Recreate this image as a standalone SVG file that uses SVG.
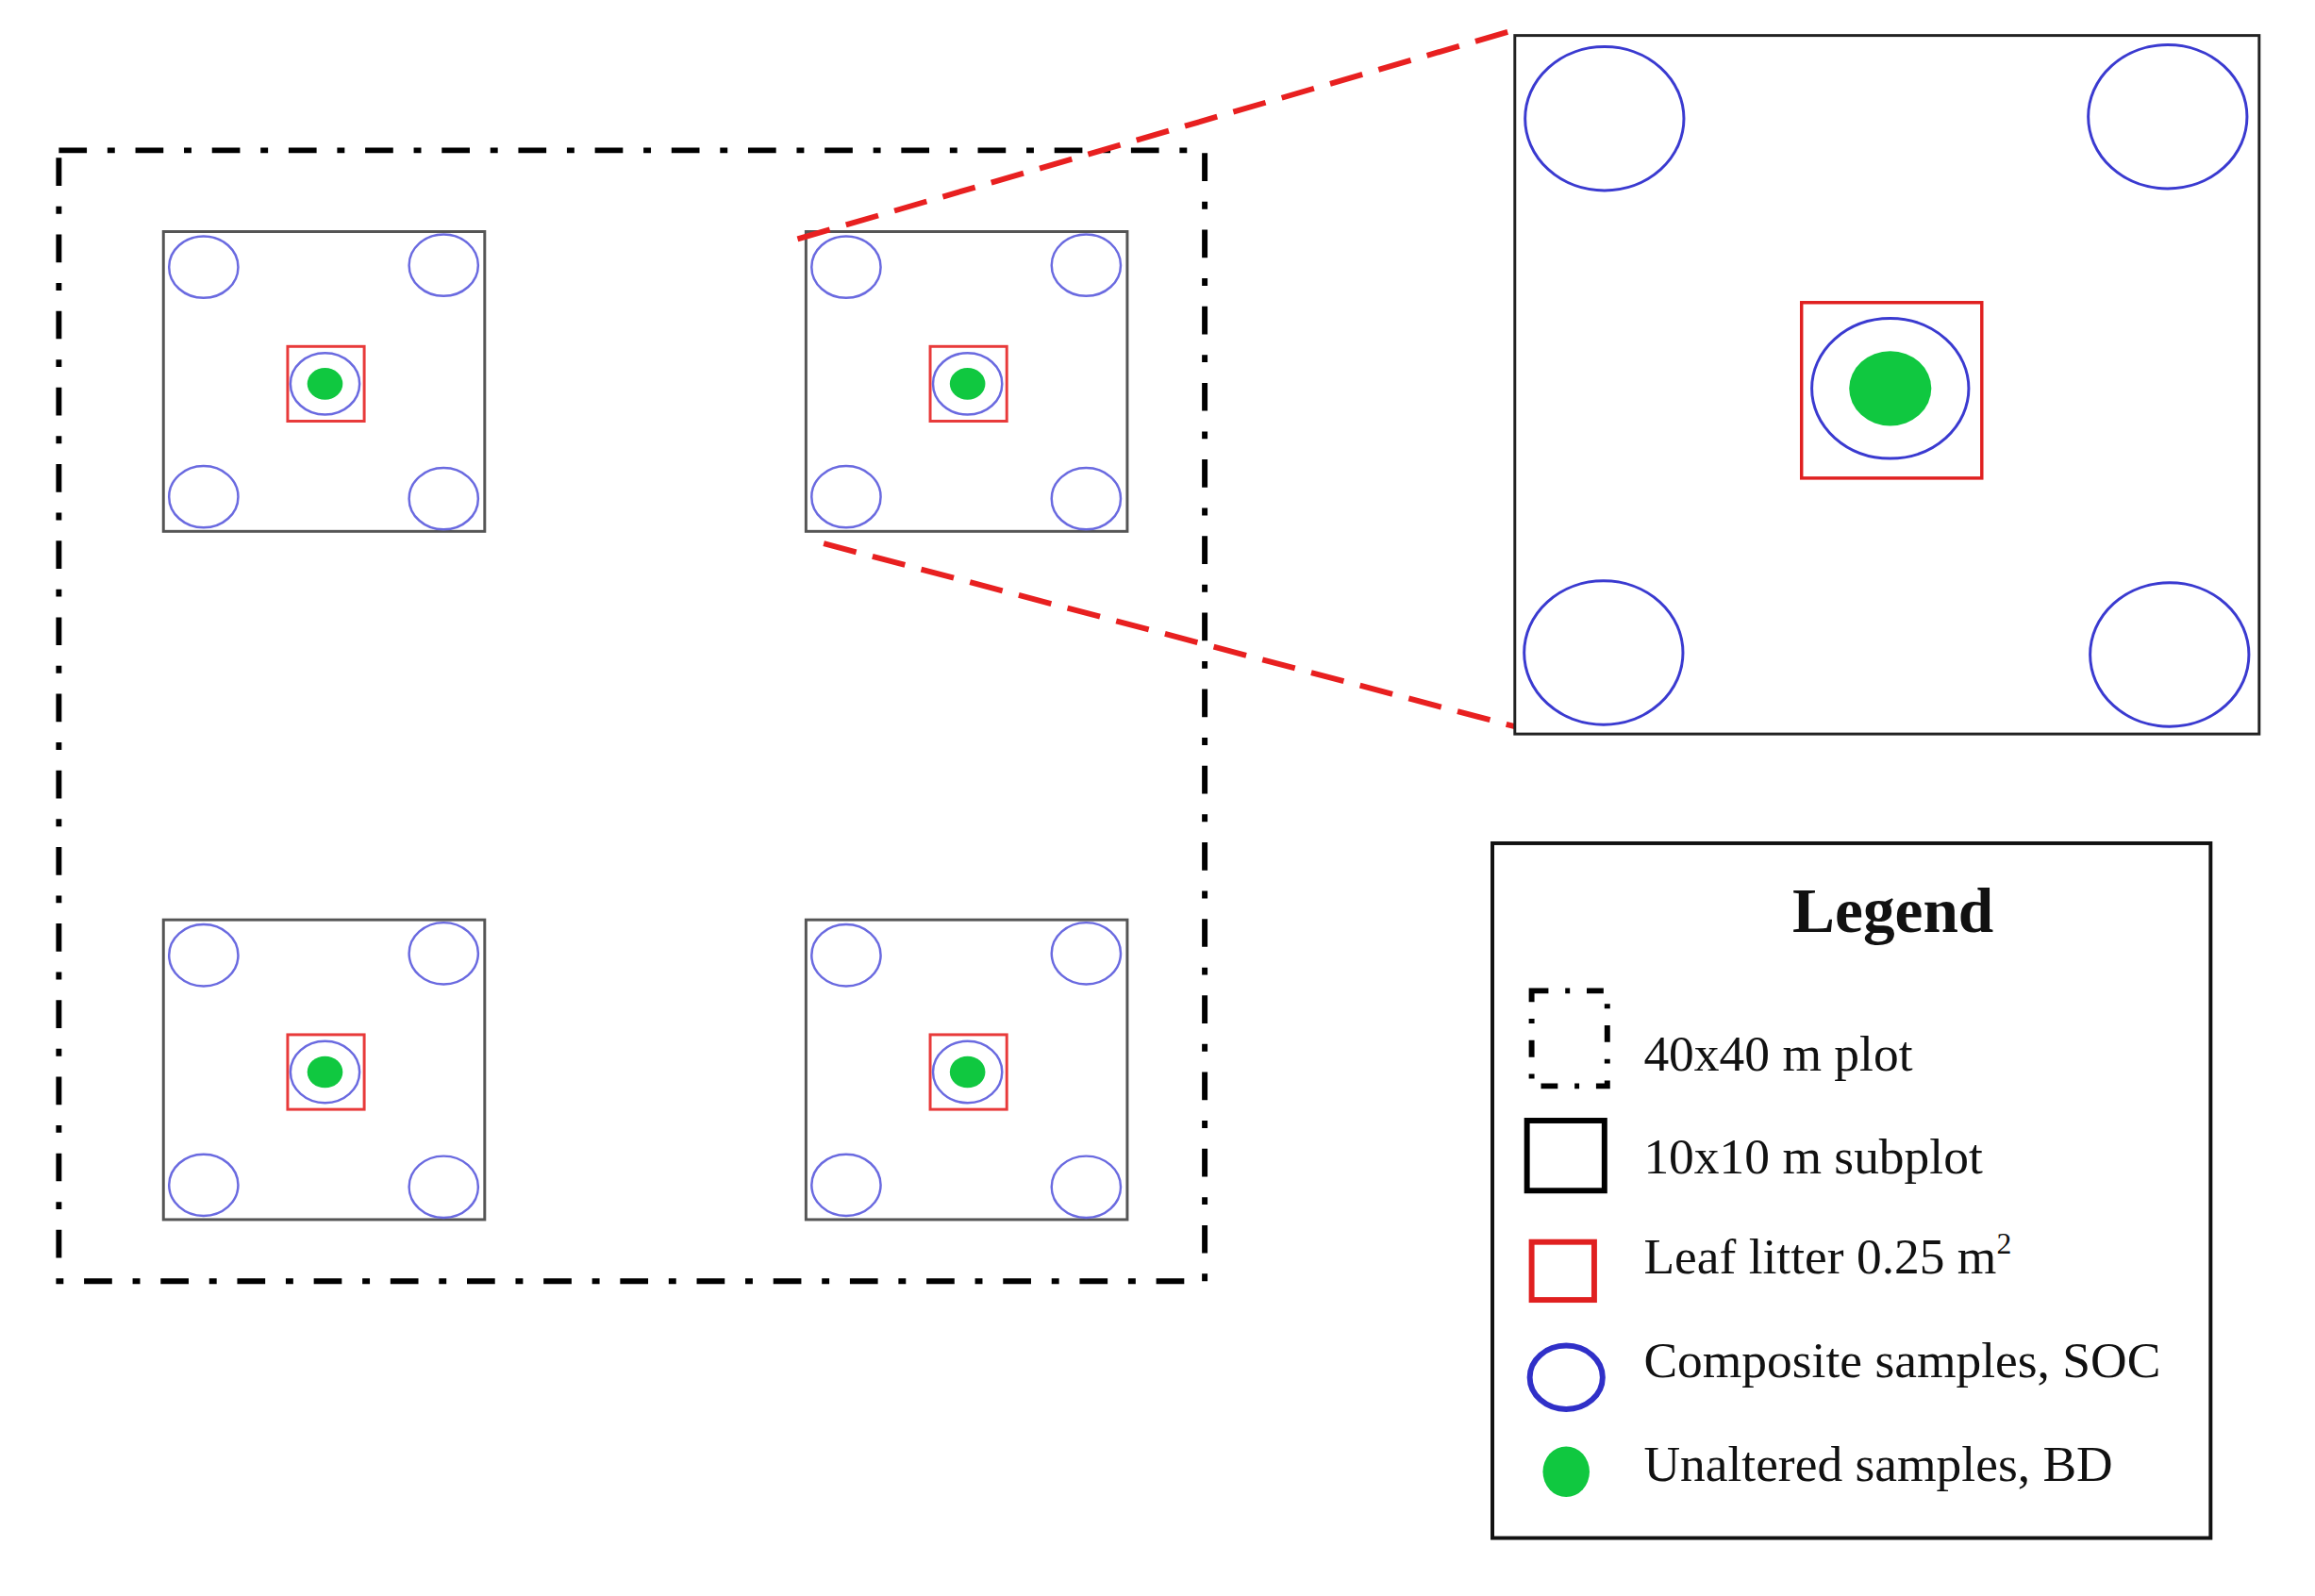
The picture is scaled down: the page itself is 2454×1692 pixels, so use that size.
<svg xmlns="http://www.w3.org/2000/svg" width="2454" height="1692" viewBox="0 0 2454 1692">
<style>
.sub{fill:none;stroke:#555;stroke-width:3}
.soc{fill:none;stroke:#6a6ae0;stroke-width:2.5}
.lit{fill:none;stroke:#e83a3a;stroke-width:3}
.bd{fill:#10c840}
.dd{fill:none;stroke:#000;stroke-width:6;stroke-dasharray:30 22 8 22}
.t{font-family:"Liberation Serif",serif;font-size:54px;fill:#111}
</style>
<defs>
<g id="subplot">
<rect class="sub" x="0" y="0" width="344" height="321"/>
<ellipse class="soc" cx="43" cy="38" rx="37" ry="33"/>
<ellipse class="soc" cx="300" cy="36" rx="37" ry="33"/>
<ellipse class="soc" cx="43" cy="284" rx="37" ry="33"/>
<ellipse class="soc" cx="300" cy="286" rx="37" ry="33"/>
<rect class="lit" x="133" y="123" width="82" height="80"/>
<ellipse class="soc" cx="173" cy="163" rx="37" ry="33"/>
<ellipse class="bd" cx="173" cy="163" rx="19" ry="17"/>
</g>
</defs>
<rect width="2454" height="1692" fill="#fff"/>
<g id="diagram" transform="scale(0.99)">
<g id="plot"><rect class="dd" x="63" y="161" width="1227" height="1211"/></g>
<g id="subplot1"><use href="#subplot" x="175" y="248"/></g>
<g id="subplot2"><use href="#subplot" x="863" y="248"/></g>
<g id="subplot3"><use href="#subplot" x="175" y="985"/></g>
<g id="subplot4"><use href="#subplot" x="863" y="985"/></g>
<g id="connectors">
<line x1="854" y1="256" x2="1622" y2="32" stroke="#e82020" stroke-width="6" stroke-dasharray="36 18"/>
<line x1="882" y1="582" x2="1622" y2="778" stroke="#e82020" stroke-width="6" stroke-dasharray="36 18"/>
</g>
<g id="enlarged">
<rect x="1622" y="38" width="797" height="748" fill="none" stroke="#222" stroke-width="3"/>
<ellipse cx="1718" cy="127" rx="85" ry="77" fill="none" stroke="#3a3ad0" stroke-width="3"/>
<ellipse cx="2321" cy="125" rx="85" ry="77" fill="none" stroke="#3a3ad0" stroke-width="3"/>
<ellipse cx="1717" cy="699" rx="85" ry="77" fill="none" stroke="#3a3ad0" stroke-width="3"/>
<ellipse cx="2323" cy="701" rx="85" ry="77" fill="none" stroke="#3a3ad0" stroke-width="3"/>
<rect x="1929" y="324" width="193" height="188" fill="none" stroke="#e02020" stroke-width="3.5"/>
<ellipse cx="2024" cy="416" rx="84" ry="75" fill="none" stroke="#3a3ad0" stroke-width="3"/>
<ellipse class="bd" cx="2024" cy="416" rx="44" ry="40"/>
</g>
<g id="legend">
<rect x="1598" y="903" width="769" height="744" fill="none" stroke="#111" stroke-width="4"/>
<text x="2027" y="998" text-anchor="middle" font-family="Liberation Serif,serif" font-weight="bold" font-size="68" fill="#111">Legend</text>
<rect x="1640" y="1061" width="81" height="102" fill="none" stroke="#000" stroke-width="6" stroke-dasharray="18 18 5 18"/>
<text class="t" x="1760" y="1146">40x40 m plot</text>
<rect x="1635" y="1200" width="83" height="75" fill="none" stroke="#000" stroke-width="6"/>
<text class="t" x="1760" y="1257">10x10 m subplot</text>
<rect x="1640" y="1330" width="67" height="62" fill="none" stroke="#e02020" stroke-width="6"/>
<text class="t" x="1760" y="1364">Leaf litter 0.25 m<tspan dy="-22" font-size="32">2</tspan></text>
<ellipse cx="1677" cy="1475" rx="39" ry="34" fill="none" stroke="#3030c8" stroke-width="6"/>
<text class="t" x="1760" y="1475">Composite samples, SOC</text>
<ellipse class="bd" cx="1677" cy="1576" rx="25" ry="27"/>
<text class="t" x="1760" y="1586">Unaltered samples, BD</text>
</g>
</g>
</svg>
